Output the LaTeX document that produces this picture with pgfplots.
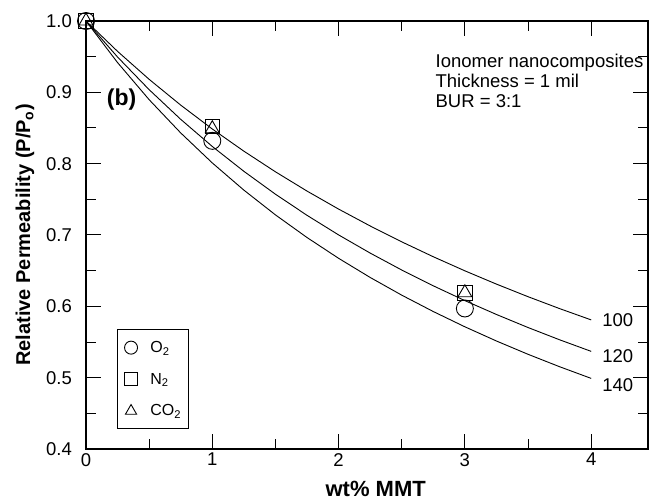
\documentclass[border=0pt]{standalone}
\usepackage{pgfplots}
\pgfplotsset{compat=1.18}
\usepackage{fontspec}
\setmainfont{Liberation Sans}

% Nielsen-type curves for three platelet aspect ratios (100, 120, 140)
\pgfplotstableread{
w     a100     a120     a140
0.00  1.00000  1.00000  1.00000
0.25  0.95741  0.94948  0.94168
0.50  0.91823  0.90374  0.88970
0.75  0.88208  0.86214  0.84309
1.00  0.84861  0.82413  0.80104
1.25  0.81753  0.78929  0.76293
1.50  0.78860  0.75720  0.72822
1.75  0.76159  0.72759  0.69648
2.00  0.73634  0.70014  0.66734
2.25  0.71268  0.67466  0.64050
2.50  0.69043  0.65092  0.61568
2.75  0.66950  0.62876  0.59269
3.00  0.64978  0.60802  0.57131
3.25  0.63115  0.58858  0.55139
3.50  0.61352  0.57030  0.53277
3.75  0.59682  0.55310  0.51535
4.00  0.58099  0.53688  0.49899
}\modelcurves

% Measured relative permeabilities
\pgfplotstableread{
w   O2     N2     CO2
0   1.000  1.000  1.000
1   0.832  0.852  0.849
3   0.597  0.619  0.619
}\measured

\begin{document}
\begin{tikzpicture}
\begin{axis}[
  scale only axis,
  width=562bp, height=428bp,
  xmin=0, xmax=4.45, ymin=0.4, ymax=1.0,
  xtick={0,1,2,3,4},
  ytick={0.4,0.5,0.6,0.7,0.8,0.9,1.0},
  minor xtick={0.5,1.5,2.5,3.5},
  minor ytick={0.45,0.55,0.65,0.75,0.85,0.95},
  major tick length=15bp, minor tick length=10bp,
  tick style={line width=1bp, black},
  axis line style={line width=1.2bp, black},
  /pgf/number format/assume math mode=true,
  y tick label style={/pgf/number format/fixed, /pgf/number format/fixed zerofill,
    /pgf/number format/precision=1},
  tick label style={font=\fontsize{18.5bp}{20bp}\selectfont},
  y tick label style={anchor=east, inner xsep=14bp, inner ysep=0pt},
  x tick label style={anchor=north, inner ysep=4bp, inner xsep=0pt},
  xlabel={wt\% MMT},
  ylabel={Relative Permeability (P/P\textsubscript{o})},
  xlabel style={at={(axis description cs:0.5155,0)}, anchor=base, yshift=-47bp,
    font=\bfseries\fontsize{22bp}{24bp}\selectfont, inner sep=0pt},
  ylabel style={at={(axis description cs:-0.1085,0.5)}, anchor=center,
    font=\bfseries\fontsize{20bp}{22bp}\selectfont, inner sep=0pt},
  legend style={at={(axis cs:0.245,0.5676)}, anchor=north west,
    draw=black, line width=0.8bp,
    font=\fontsize{16bp}{18bp}\selectfont,
    inner xsep=4bp, inner ysep=6.8bp, row sep=9.7bp,
    nodes={inner xsep=3bp, inner ysep=0pt},
    cells={anchor=west}},
  legend image code/.code={%
    \path[draw=none, fill=none] (-9.7bp,-11bp) rectangle (16.3bp,11bp);
    \draw[#1, mark size=6.5bp] plot coordinates {(0bp,0bp)};},
]
\addplot[black, line width=0.9bp, forget plot] table[x=w, y=a100] {\modelcurves};
\addplot[black, line width=0.9bp, forget plot] table[x=w, y=a120] {\modelcurves};
\addplot[black, line width=0.9bp, forget plot] table[x=w, y=a140] {\modelcurves};

\addplot[only marks, mark=o, mark size=8.5bp, mark options={line width=0.9bp, black}]
  table[x=w, y=O2] {\measured};
\addlegendentry{O\textsubscript{2}}
\addplot[only marks, mark=square, mark size=7.3bp, mark options={line width=0.9bp, black}]
  table[x=w, y=N2] {\measured};
\addlegendentry{N\textsubscript{2}}
\addplot[only marks, mark=triangle, mark size=8bp, mark options={line width=0.9bp, black}]
  table[x=w, y=CO2] {\measured};
\addlegendentry{CO\textsubscript{2}}

\node[anchor=west, inner sep=0pt, font=\fontsize{18.5bp}{20bp}\selectfont] at (axis cs:4.087,0.581) {100};
\node[anchor=west, inner sep=0pt, font=\fontsize{18.5bp}{20bp}\selectfont] at (axis cs:4.087,0.5305) {120};
\node[anchor=west, inner sep=0pt, font=\fontsize{18.5bp}{20bp}\selectfont] at (axis cs:4.087,0.489) {140};

\node[anchor=west, inner sep=0pt, font=\bfseries\fontsize{23bp}{25bp}\selectfont] at (axis cs:0.164,0.890) {(b)};

\node[anchor=north west, inner sep=0pt, align=left, font=\fontsize{18.5bp}{20bp}\selectfont]
  at (axis cs:2.767,0.954) {Ionomer nanocomposites\\Thickness = 1 mil\\BUR = 3:1};
\end{axis}
\pgfresetboundingbox
\useasboundingbox (-86bp,-51bp) rectangle (563bp,449bp);
\end{tikzpicture}
\end{document}
